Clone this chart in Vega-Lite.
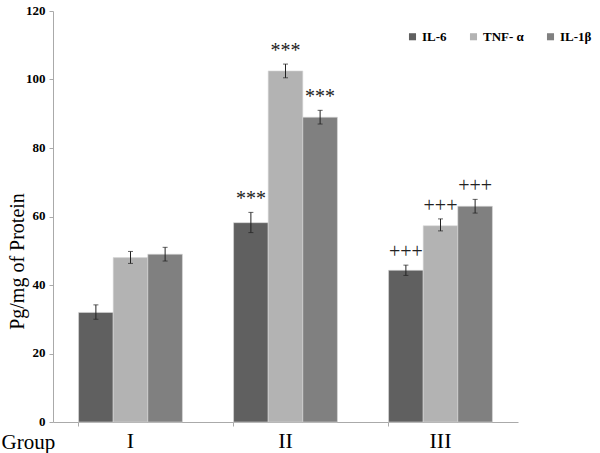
{
  "$schema": "https://vega.github.io/schema/vega-lite/v6.json",
  "width": 465,
  "height": 411,
  "autosize": {"type": "none"},
  "padding": {"left": 53, "top": 11, "right": 82, "bottom": 31},
  "background": "white",
  "config": {
    "view": {"stroke": null},
    "font": "Liberation Serif"
  },
  "data": {
    "values": [
      {"group": "I", "cytokine": "IL-6", "value": 32, "low": 30, "high": 34.2, "sig": ""},
      {"group": "I", "cytokine": "TNF- α", "value": 48, "low": 46.3, "high": 49.8, "sig": ""},
      {"group": "I", "cytokine": "IL-1β", "value": 49, "low": 47, "high": 51, "sig": ""},
      {"group": "II", "cytokine": "IL-6", "value": 58.2, "low": 55.3, "high": 61.2, "sig": "***"},
      {"group": "II", "cytokine": "TNF- α", "value": 102.5, "low": 100.5, "high": 104.5, "sig": "***"},
      {"group": "II", "cytokine": "IL-1β", "value": 89, "low": 87, "high": 91, "sig": "***"},
      {"group": "III", "cytokine": "IL-6", "value": 44.3, "low": 42.8, "high": 45.8, "sig": "+++"},
      {"group": "III", "cytokine": "TNF- α", "value": 57.3, "low": 55.8, "high": 59.3, "sig": "+++"},
      {"group": "III", "cytokine": "IL-1β", "value": 63, "low": 61, "high": 65, "sig": "+++"}
    ]
  },
  "encoding": {
    "x": {
      "field": "group",
      "type": "nominal",
      "sort": ["I", "II", "III"],
      "scale": {"paddingInner": 0.33, "paddingOuter": 0.165},
      "axis": {
        "title": "Group",
        "titleFont": "Liberation Serif",
        "titleFontSize": 21,
        "titleFontWeight": "normal",
        "titleColor": "black",
        "titleAnchor": "start",
        "titleAlign": "left",
        "titleBaseline": "alphabetic",
        "titleX": -52,
        "titleY": 26,
        "labelAngle": 0,
        "labelFont": "Liberation Serif",
        "labelFontSize": 22,
        "labelColor": "black",
        "labelPadding": 4,
        "labelBaseline": "top",
        "bandPosition": 0,
        "tickSize": 4,
        "tickColor": "#aaaaaa",
        "domainColor": "#aaaaaa"
      }
    },
    "xOffset": {"field": "cytokine", "type": "nominal", "sort": ["IL-6", "TNF- α", "IL-1β"], "scale": {"paddingInner": 0, "paddingOuter": 0}}
  },
  "layer": [
    {
      "mark": {"type": "bar", "stroke": "#d8d8d8", "strokeWidth": 0.6},
      "encoding": {
        "y": {
          "field": "value",
          "type": "quantitative",
          "scale": {"domain": [0, 120]},
          "axis": {
            "title": "Pg/mg of Protein",
            "titleFont": "Liberation Serif",
            "titleFontSize": 20,
            "titleFontWeight": "normal",
            "titleColor": "black",
            "titleAngle": -90,
            "titleX": -30,
            "titleY": 250,
            "titleAlign": "center",
            "titleBaseline": "alphabetic",
            "values": [0, 20, 40, 60, 80, 100, 120],
            "grid": false,
            "labelFont": "Liberation Serif",
            "labelFontSize": 13,
            "labelFontWeight": "bold",
            "labelColor": "black",
            "labelPadding": 4,
            "labelBaseline": "bottom",
            "labelOffset": 6,
            "tickSize": 4,
            "tickColor": "#aaaaaa",
            "domainColor": "#aaaaaa"
          }
        },
        "color": {
          "field": "cytokine",
          "type": "nominal",
          "sort": ["IL-6", "TNF- α", "IL-1β"],
          "scale": {"domain": ["IL-6", "TNF- α", "IL-1β"], "range": ["#606060", "#b3b3b3", "#808080"]},
          "legend": {
            "title": null,
            "orient": "none",
            "direction": "horizontal",
            "legendX": 353,
            "legendY": 19,
            "symbolType": "square",
            "symbolSize": 50,
            "symbolStrokeWidth": 0,
            "labelFont": "Liberation Serif",
            "labelFontSize": 13,
            "labelFontWeight": "bold",
            "labelColor": "black",
            "labelOffset": 3,
            "columnPadding": 20
          }
        }
      }
    },
    {
      "mark": {"type": "rule", "color": "#222222", "strokeWidth": 1},
      "encoding": {
        "y": {"field": "low", "type": "quantitative"},
        "y2": {"field": "high"}
      }
    },
    {
      "mark": {"type": "tick", "color": "#222222", "size": 5, "thickness": 1},
      "encoding": {"y": {"field": "low", "type": "quantitative"}}
    },
    {
      "mark": {"type": "tick", "color": "#222222", "size": 5, "thickness": 1},
      "encoding": {"y": {"field": "high", "type": "quantitative"}}
    },
    {
      "mark": {"type": "text", "font": "Liberation Serif", "fontSize": 20, "color": "#222222", "baseline": "middle", "dy": -13},
      "encoding": {
        "y": {"field": "high", "type": "quantitative"},
        "text": {"field": "sig"}
      }
    }
  ]
}
